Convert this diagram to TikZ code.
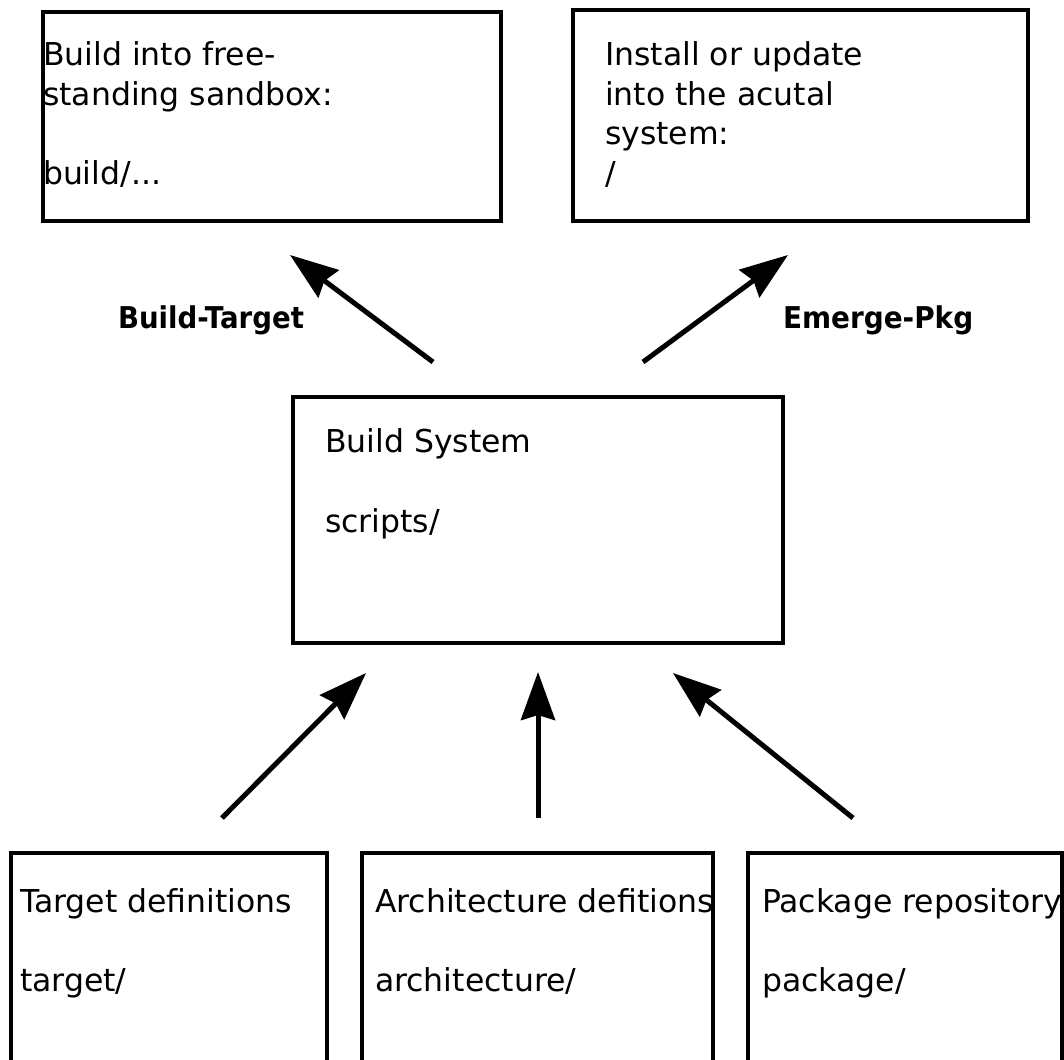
\documentclass[tikz,border=0pt]{standalone}
\usepackage{fontspec}
\setmainfont{DejaVu Sans}
\usepackage{graphicx}
\usetikzlibrary{arrows.meta}
\begin{document}
\begin{tikzpicture}[x=1pt,y=-1pt,
  box/.style={draw=black, line width=4pt, rectangle, inner sep=0pt, outer sep=0pt},
  txt/.style={anchor=base west, inner sep=0pt, outer sep=0pt, font=\fontsize{31.5}{40}\selectfont, text=black},
  lbl/.style={anchor=base west, inner sep=0pt, outer sep=0pt, font=\fontsize{30}{36}\selectfont\bfseries},
  arr/.style={line width=5pt, -{Stealth[length=48pt,width=34pt,inset=5pt]}}]
\useasboundingbox (0,0) rectangle (1064,1059);
\clip (0,0) rectangle (1064,1059);
\fill[white] (0,0) rectangle (1064,1059);

% boxes
\node[box, minimum width=458pt, minimum height=209pt] (sandbox) at (272,116.5) {};
\node[box, minimum width=455pt, minimum height=211pt] (system) at (800.5,115.5) {};
\node[box, minimum width=490pt, minimum height=246pt] (buildsys) at (538,520) {};
\node[box, minimum width=316pt, minimum height=267pt] (target) at (169,986.5) {};
\node[box, minimum width=351pt, minimum height=267pt] (arch) at (537.5,986.5) {};
\node[box, minimum width=314pt, minimum height=267pt] (pkg) at (905,986.5) {};

% texts
\node[txt] (sb1) at (43,66) {Build into free-};
\node[txt] (sb2) at (43,106) {standing sandbox:};
\node[txt] (sb3) at (43,185) {build/...};

\node[txt] (sy1) at (605,66) {Install or update};
\node[txt] (sy2) at (605,106) {into the acutal};
\node[txt] (sy3) at (605,145) {system:};
\node[txt] (sy4) at (605,185) {/};

\node[txt] (bs1) at (325,452) {Build System};
\node[txt] (bs2) at (325,532) {scripts/};

\node[txt] (tg1) at (20,912) {Target definitions};
\node[txt] (tg2) at (20,991) {target/};
\node[txt] (ar1) at (375,912) {Architecture defitions};
\node[txt] (ar2) at (375,991) {architecture/};
\node[txt] (pk1) at (762,912) {Package repository};
\node[txt] (pk2) at (762,991) {package/};

% labels
\node[lbl] (lblbt) at (118,328) {\scalebox{0.92}[1]{Build-Target}};
\node[lbl] (lblep) at (783,328) {\scalebox{0.93}[1]{Emerge-Pkg}};

% arrow end points
\coordinate (btS) at (433,362);
\coordinate (btE) at (290,255);
\coordinate (epS) at (643,362);
\coordinate (epE) at (788,255);
\coordinate (tgS) at (222,818);
\coordinate (tgE) at (366,673);
\coordinate (arS) at (538,818);
\coordinate (arE) at (538,672);
\coordinate (pkS) at (853,818);
\coordinate (pkE) at (673,673);

\draw[arr] (btS) -- (btE);
\draw[arr] (epS) -- (epE);
\draw[arr] (tgS) -- (tgE);
\draw[arr] (arS) -- (arE);
\draw[arr] (pkS) -- (pkE);
\end{tikzpicture}
\end{document}
